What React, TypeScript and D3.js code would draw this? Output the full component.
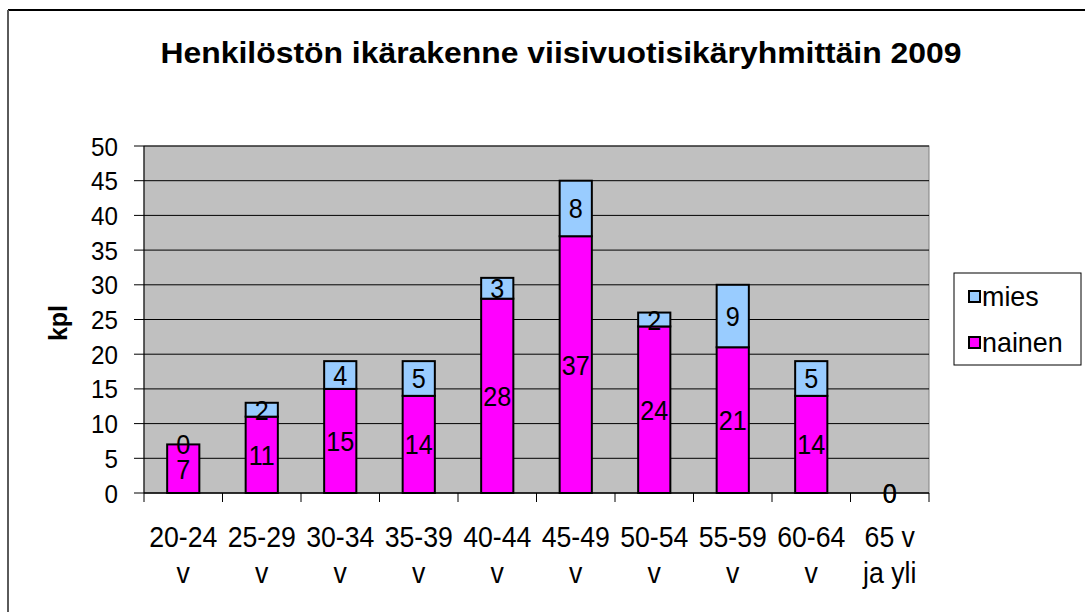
import React from "react";
import * as d3 from "d3";

const categories = ["20-24 v", "25-29 v", "30-34 v", "35-39 v", "40-44 v", "45-49 v", "50-54 v", "55-59 v", "60-64 v", "65 v ja yli"];
const labelLine1 = ["20-24", "25-29", "30-34", "35-39", "40-44", "45-49", "50-54", "55-59", "60-64", "65 v"];
const labelLine2 = ["v", "v", "v", "v", "v", "v", "v", "v", "v", "ja yli"];
const nainen = [7, 11, 15, 14, 28, 37, 24, 21, 14, 0];
const mies = [0, 2, 4, 5, 3, 8, 2, 9, 5, 0];
const yTicks = [0, 5, 10, 15, 20, 25, 30, 35, 40, 45, 50];
const seriesKeys = ["nainen", "mies"];
const seriesColors: Record<string, string> = { nainen: "#FF00FF", mies: "#99CCFF" };
const legendOrder = ["mies", "nainen"];

const FONT = "'Liberation Sans', Arial, sans-serif";

function T(props: { x: number; y: number; sx?: number; fs: number; anchor?: string; bold?: boolean; children: any }) {
  const { x, y, sx = 1, fs, anchor = "start", bold = false, children } = props;
  return (
    <text transform={`translate(${x},${y}) scale(${sx},1)`} textAnchor={anchor} fontSize={fs} fontWeight={bold ? "bold" : "normal"} fill="#000">
      {children}
    </text>
  );
}

export default function App() {
  const W = 1085, H = 612;
  const left = 144, right = 929, top = 146, bottom = 493;
  const x = d3.scaleBand<string>().domain(categories).range([left, right]).padding(0);
  const y = d3.scaleLinear().domain([0, 50]).range([bottom, top]);
  const bw = x.bandwidth();
  const barW = bw * 0.41;

  const rows = categories.map((c, i) => ({ cat: c, nainen: nainen[i], mies: mies[i] }));
  const stacked = d3.stack<any>().keys(seriesKeys)(rows);

  return (
    <div style={{ position: "absolute", left: 0, top: 0 }}>
      <svg width={W} height={H} style={{ display: "block" }} fontFamily={FONT}>
        <rect x={0} y={0} width={W} height={H} fill="#fff" />
        {/* frame */}
        <line x1={8} y1={10} x2={W} y2={10} stroke="#000" strokeWidth={2} />
        <line x1={8} y1={10} x2={8} y2={H} stroke="#5a5a5a" strokeWidth={2} />

        {/* title */}
        <text x={561} y={63} textAnchor="middle" fontSize={29} fontWeight="bold" fill="#000" textLength={801} lengthAdjust="spacingAndGlyphs">
          Henkilöstön ikärakenne viisivuotisikäryhmittäin 2009
        </text>

        {/* plot area */}
        <rect x={left} y={top} width={right - left} height={bottom - top} fill="#C0C0C0" stroke="#808080" strokeWidth={1} />
        {yTicks.map((t) => (
          <line key={"g" + t} x1={left} x2={right} y1={y(t)} y2={y(t)} stroke="#000" strokeWidth={1} />
        ))}
        {/* axes */}
        <line x1={left} x2={left} y1={top} y2={bottom} stroke="#000" strokeWidth={1} />
        <line x1={left} x2={right} y1={bottom} y2={bottom} stroke="#000" strokeWidth={1} />
        {yTicks.map((t) => (
          <g key={"yt" + t}>
            <line x1={left - 10} x2={left} y1={y(t)} y2={y(t)} stroke="#000" strokeWidth={1} />
            <T x={118} y={y(t) + 9.5} fs={26} sx={0.93} anchor="end">{t}</T>
          </g>
        ))}
        {categories.map((c, i) => (
          <line key={"xt" + i} x1={x(c)!} x2={x(c)!} y1={bottom} y2={bottom + 9} stroke="#000" strokeWidth={1} />
        ))}
        <line x1={right} x2={right} y1={bottom} y2={bottom + 9} stroke="#000" strokeWidth={1} />

        {/* bars */}
        {stacked.map((s) =>
          s.map((d, i) => {
            const c = categories[i];
            const x0 = x(c)! + (bw - barW) / 2;
            const y0 = y(d[1]);
            const h = y(d[0]) - y(d[1]);
            if (h <= 0) return null;
            return (
              <rect key={s.key + i} x={x0} y={y0} width={barW} height={h} fill={seriesColors[s.key]} stroke="#000" strokeWidth={2} />
            );
          })
        )}
        {/* data labels */}
        {stacked.map((s) =>
          s.map((d, i) => {
            const c = categories[i];
            const cx = x(c)! + bw / 2;
            const cy = (y(d[0]) + y(d[1])) / 2;
            const v = s.key === "nainen" ? nainen[i] : mies[i];
            return (
              <T key={"l" + s.key + i} x={cx} y={cy + 10} fs={28} sx={0.9} anchor="middle">{v}</T>
            );
          })
        )}

        {/* x labels */}
        {categories.map((c, i) => (
          <g key={"xl" + i}>
            <T x={x(c)! + bw / 2} y={547} fs={29} sx={0.92} anchor="middle">{labelLine1[i]}</T>
            <T x={x(c)! + bw / 2} y={583} fs={29} sx={0.92} anchor="middle">{labelLine2[i]}</T>
          </g>
        ))}

        {/* y axis title */}
        <text transform={`translate(67,323) rotate(-90)`} textAnchor="middle" fontSize={25} fontWeight="bold" fill="#000">kpl</text>

        {/* legend */}
        <rect x={954} y={273} width={127} height={92} fill="#fff" stroke="#000" strokeWidth={1} />
        {legendOrder.map((k, i) => (
          <g key={"lg" + k}>
            <rect x={969} y={291 + i * 46} width={11} height={11} fill={seriesColors[k]} stroke="#000" strokeWidth={2} />
            <T x={982} y={306 + i * 46} fs={28} sx={0.96}>{k}</T>
          </g>
        ))}
      </svg>
    </div>
  );
}
